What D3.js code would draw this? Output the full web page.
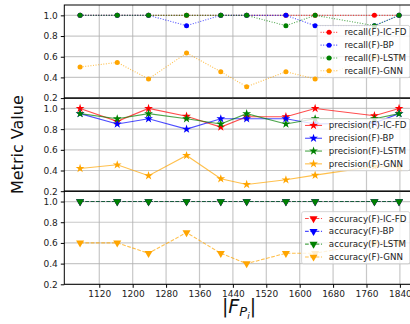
<!DOCTYPE html>
<html lang="en">
<head>
<meta charset="UTF-8">
<title>metrics</title>
<script src="https://cdn.jsdelivr.net/npm/d3@7"></script>
<style>
  body { margin: 0; background: #fff; }
  svg { display: block; font-family: "DejaVu Sans", sans-serif; }
</style>
</head>
<body>
<div id="chart"></div>
<script>
// x values (|F_Pi|)
var sizes = [1074, 1163, 1238, 1329, 1411, 1473, 1567, 1637, 1779, 1838];
var xTicks = [1120, 1200, 1280, 1360, 1440, 1520, 1600, 1680, 1760, 1840];
var yTicks = [0.2, 0.4, 0.6, 0.8, 1.0];
var methods = ["IC-FD", "BP", "LSTM", "GNN"];
var colors = ["#ff0000", "#0000ff", "#008000", "#ffa500"];

var recallICFD = [1, 1, 1, 1, 1, 1, 1, 1, 1, 1];
var recallBP   = [1, 1, 1, 0.9, 1, 1, 1, 0.9, 0.9, 1];
var recallLSTM = [1, 1, 1, 1, 1, 1, 0.9, 1, 0.9, 1];
var recallGNN  = [0.5, 0.545, 0.385, 0.636, 0.455, 0.31, 0.455, 0.385, 0.6, 0.6];

var precICFD = [1.0, 0.875, 1.0, 0.925, 0.82, 0.92, 0.92, 1.0, 0.93, 1.0];
var precBP   = [0.95, 0.85, 0.9, 0.8, 0.9, 0.9, 0.9, 0.85, 0.86, 0.95];
var precLSTM = [0.95, 0.9, 0.95, 0.9, 0.85, 0.95, 0.85, 0.9, 0.9, 0.95];
var precGNN  = [0.42, 0.455, 0.35, 0.545, 0.32, 0.265, 0.31, 0.355, 0.44, 0.43];

var accICFD = [1, 1, 1, 1, 1, 1, 1, 1, 1, 1];
var accBP   = [1, 1, 1, 1, 1, 1, 1, 1, 1, 1];
var accLSTM = [1, 1, 1, 1, 1, 1, 1, 1, 1, 1];
var accGNN  = [0.6, 0.6, 0.5, 0.7, 0.5, 0.4, 0.5, 0.5, 0.6, 0.6];

var panels = [
  { name: "recall", series: [recallICFD, recallBP, recallLSTM, recallGNN], dash: "1,1.6", marker: "circle" },
  { name: "precision", series: [precICFD, precBP, precLSTM, precGNN], dash: null, marker: "star" },
  { name: "accuracy", series: [accICFD, accBP, accLSTM, accGNN], dash: "3.7,1.6", marker: "tri" }
];

var W = 410, H = 324;
var plotL = 64.3, plotR = 414, plotT = 5, panelH = 93.1;

var svg = d3.select("#chart").append("svg").attr("width", W).attr("height", H);

var x = d3.scaleLinear().domain([1036.2, 1873.8]).range([plotL, plotR]);

function markerPath(kind) {
  if (kind === "star") return d3.symbol().type(d3.symbolStar).size(24)();
  if (kind === "tri") return d3.symbol().type(d3.symbolTriangle).size(28)();
  return d3.symbol().type(d3.symbolCircle).size(20)();
}

panels.forEach(function (p, pi) {
  var y0 = plotT + pi * panelH;
  var y = d3.scaleLinear().domain([0.2, 1.1]).range([y0 + panelH, y0]);
  var g = svg.append("g");

  // grid
  g.selectAll(".gx").data(xTicks).enter().append("line")
    .attr("x1", function (d) { return x(d); }).attr("x2", function (d) { return x(d); })
    .attr("y1", y0).attr("y2", y0 + panelH)
    .attr("stroke", "#b0b0b0").attr("stroke-opacity", 0.7).attr("stroke-width", 1.2);
  g.selectAll(".gy").data(yTicks).enter().append("line")
    .attr("x1", plotL).attr("x2", plotR)
    .attr("y1", function (d) { return y(d); }).attr("y2", function (d) { return y(d); })
    .attr("stroke", "#b0b0b0").attr("stroke-opacity", 0.7).attr("stroke-width", 1.2);

  var line = d3.line().x(function (d, i) { return x(sizes[i]); }).y(function (d) { return y(d); });
  p.series.forEach(function (vals, si) {
    g.append("path").datum(vals).attr("d", line)
      .attr("fill", "none").attr("stroke", colors[si]).attr("stroke-width", 1.1)
      .attr("stroke-opacity", 0.7)
      .attr("stroke-dasharray", p.dash);
    g.selectAll(".m" + si).data(vals).enter().append("path")
      .attr("d", markerPath(p.marker))
      .attr("transform", function (d, i) {
        return "translate(" + x(sizes[i]) + "," + y(d) + ")" + (p.marker === "tri" ? " rotate(180)" : "");
      })
      .attr("fill", colors[si]);
  });

  // y axis
  var ya = g.append("g").attr("transform", "translate(" + plotL + ",0)")
    .call(d3.axisLeft(y).tickValues(yTicks).tickFormat(d3.format(".1f")).tickSize(3.5).tickPadding(3));
  ya.select(".domain").remove();
  ya.selectAll("text").attr("font-size", 9).attr("fill", "#222").attr("font-family", "DejaVu Sans");

  // frame
  g.append("rect").attr("x", plotL).attr("y", y0).attr("width", plotR - plotL).attr("height", panelH)
    .attr("fill", "none").attr("stroke", "#000").attr("stroke-width", 1);

  // legend
  var fs = 8.7, rowH = 12.8;
  var lg = g.append("g");
  var box = lg.append("rect");
  var texts = [];
  var cy = y0 + panelH / 2;
  methods.forEach(function (m, si) {
    var ry = cy + (si - 1.5) * rowH;
    texts.push(lg.append("text").attr("y", ry).attr("dy", "0.35em")
      .attr("font-size", fs).attr("fill", "#222").text(p.name + "(F)-" + m));
  });
  var maxW = d3.max(texts, function (t) { return t.node().getComputedTextLength(); });
  var boxR = plotR - 4.2;
  var textX = boxR - 3.4 - maxW;
  var hx1 = textX - 6.8 - 17, hx2 = textX - 6.8;
  texts.forEach(function (t) { t.attr("x", textX); });
  box.attr("x", hx1 - 3.4).attr("y", cy - 2 * rowH - 0.5).attr("width", boxR - hx1 + 3.4)
    .attr("height", 4 * rowH + 1).attr("rx", 2)
    .attr("fill", "#fff").attr("fill-opacity", 0.8).attr("stroke", "#ccc").attr("stroke-opacity", 0.8);
  methods.forEach(function (m, si) {
    var ry = cy + (si - 1.5) * rowH;
    lg.append("line").attr("x1", hx1).attr("x2", hx2).attr("y1", ry).attr("y2", ry)
      .attr("stroke", colors[si]).attr("stroke-width", 1.1).attr("stroke-opacity", 0.7)
      .attr("stroke-dasharray", p.dash);
    lg.append("path").attr("d", markerPath(p.marker))
      .attr("transform", "translate(" + (hx1 + hx2) / 2 + "," + ry + ")" + (p.marker === "tri" ? " rotate(180)" : ""))
      .attr("fill", colors[si]);
  });
});

// x axis on bottom panel
var plotB = plotT + 3 * panelH;
var xa = svg.append("g").attr("transform", "translate(0," + plotB + ")")
  .call(d3.axisBottom(x).tickValues(xTicks).tickFormat(d3.format("d")).tickSize(3.5).tickPadding(3));
xa.select(".domain").remove();
xa.selectAll("text").attr("font-size", 9).attr("fill", "#222").attr("font-family", "DejaVu Sans");

// axis labels
svg.append("text").attr("transform", "translate(23," + (plotT + 1.5 * panelH) + ") rotate(-90)")
  .attr("text-anchor", "middle").attr("font-size", 16).attr("fill", "#111").text("Metric Value");

var xl = svg.append("text").attr("x", 239).attr("y", 313).attr("text-anchor", "middle")
  .attr("font-size", 19).attr("fill", "#111");
xl.append("tspan").text("|");
xl.append("tspan").attr("font-style", "italic").text("F");
xl.append("tspan").attr("font-style", "italic").attr("font-size", 13).attr("dy", 3).text("P");
xl.append("tspan").attr("font-style", "italic").attr("font-size", 9).attr("dy", 2.5).text("i");
xl.append("tspan").attr("dy", -5.5).text("|");
</script>
</body>
</html>
